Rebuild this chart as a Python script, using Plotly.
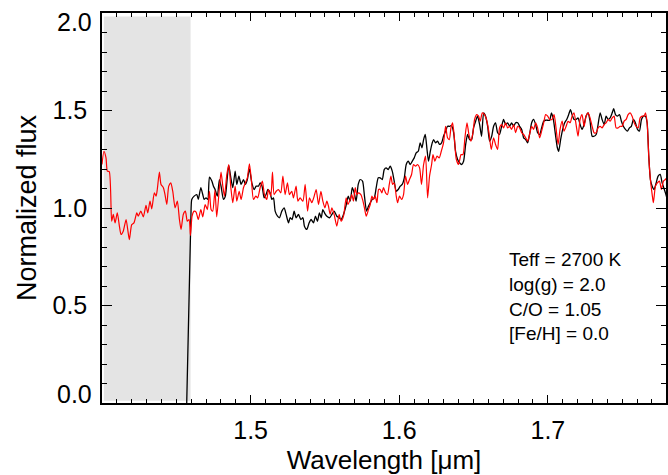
import plotly.graph_objects as go

# Observed spectrum (black)
obs_wave = [
    1.4570, 1.4598, 1.4604, 1.4620, 1.4638, 1.4648, 1.4665, 1.4678, 1.4687, 1.4700,
    1.4712, 1.4723, 1.4739, 1.4750, 1.4761, 1.4776, 1.4790, 1.4801, 1.4817, 1.4830,
    1.4844, 1.4853, 1.4867, 1.4880, 1.4896, 1.4907, 1.4921, 1.4936, 1.4952, 1.4965,
    1.4978, 1.4992, 1.5008, 1.5024, 1.5037, 1.5053, 1.5064, 1.5077, 1.5091, 1.5104,
    1.5116, 1.5131, 1.5143, 1.5154, 1.5165, 1.5181, 1.5194, 1.5210, 1.5226, 1.5239,
    1.5255, 1.5266, 1.5279, 1.5293, 1.5306, 1.5322, 1.5338, 1.5352, 1.5362, 1.5378,
    1.5394, 1.5407, 1.5423, 1.5436, 1.5450, 1.5463, 1.5475, 1.5486, 1.5500, 1.5513,
    1.5531, 1.5547, 1.5562, 1.5580, 1.5596, 1.5609, 1.5625, 1.5641, 1.5657, 1.5670,
    1.5684, 1.5697, 1.5710, 1.5724, 1.5737, 1.5753, 1.5766, 1.5780, 1.5793, 1.5805,
    1.5818, 1.5832, 1.5845, 1.5859, 1.5872, 1.5886, 1.5899, 1.5912, 1.5926, 1.5939,
    1.5953, 1.5966, 1.5980, 1.5993, 1.6007, 1.6020, 1.6034, 1.6047, 1.6061, 1.6074,
    1.6088, 1.6101, 1.6114, 1.6128, 1.6141, 1.6153, 1.6164, 1.6175, 1.6187, 1.6197,
    1.6209, 1.6222, 1.6231, 1.6244, 1.6258, 1.6271, 1.6285, 1.6298, 1.6312, 1.6325,
    1.6339, 1.6352, 1.6366, 1.6379, 1.6393, 1.6406, 1.6420, 1.6433, 1.6447, 1.6460,
    1.6473, 1.6487, 1.6500, 1.6514, 1.6527, 1.6541, 1.6554, 1.6568, 1.6581, 1.6595,
    1.6608, 1.6622, 1.6635, 1.6648, 1.6662, 1.6675, 1.6689, 1.6702, 1.6716, 1.6729,
    1.6743, 1.6756, 1.6770, 1.6783, 1.6797, 1.6810, 1.6824, 1.6837, 1.6851, 1.6864,
    1.6877, 1.6891, 1.6904, 1.6918, 1.6931, 1.6945, 1.6958, 1.6972, 1.6985, 1.6999,
    1.7012, 1.7024, 1.7037, 1.7051, 1.7064, 1.7073, 1.7086, 1.7100, 1.7113, 1.7127,
    1.7140, 1.7152, 1.7163, 1.7176, 1.7190, 1.7203, 1.7217, 1.7230, 1.7244, 1.7257,
    1.7271, 1.7284, 1.7298, 1.7311, 1.7325, 1.7338, 1.7352, 1.7365, 1.7379, 1.7392,
    1.7406, 1.7419, 1.7433, 1.7443, 1.7455, 1.7468, 1.7482, 1.7495, 1.7508, 1.7522,
    1.7535, 1.7549, 1.7562, 1.7576, 1.7589, 1.7603, 1.7616, 1.7630, 1.7643, 1.7657,
    1.7668, 1.7679, 1.7690, 1.7702, 1.7715, 1.7729, 1.7742, 1.7756, 1.7769, 1.7780,
    1.7791, 1.7805,
]
obs_flux = [
    0.000, 0.950, 1.044, 1.061, 1.069, 1.044, 1.104, 1.069, 1.044, 1.052,
    1.044, 1.158, 1.138, 1.112, 1.095, 1.061, 1.146, 1.112, 1.044, 1.061,
    1.163, 1.218, 1.155, 1.104, 1.189, 1.121, 1.163, 1.121, 1.146, 1.121,
    1.146, 1.201, 1.129, 1.095, 1.112, 1.112, 1.129, 1.112, 1.052, 1.069,
    1.095, 1.078, 1.044, 1.052, 0.984, 0.958, 0.950, 0.984, 1.001, 0.967,
    0.924, 0.950, 0.941, 0.984, 0.950, 0.967, 0.941, 0.950, 0.907, 0.890,
    0.924, 0.941, 0.924, 0.958, 0.932, 0.975, 0.950, 0.992, 0.971, 0.958,
    0.950, 0.967, 0.984, 0.958, 0.950, 0.941, 0.967, 1.009, 1.061, 1.035,
    1.104, 1.078, 1.035, 1.121, 1.146, 1.138, 1.061, 0.984, 1.009, 1.027,
    1.044, 1.052, 1.104, 1.155, 1.155, 1.146, 1.197, 1.206, 1.197, 1.214,
    1.189, 1.138, 1.086, 1.095, 1.112, 1.121, 1.155, 1.223, 1.240, 1.223,
    1.240, 1.257, 1.283, 1.291, 1.334, 1.309, 1.351, 1.377, 1.300, 1.240,
    1.290, 1.334, 1.351, 1.334, 1.343, 1.326, 1.334, 1.368, 1.394, 1.419,
    1.419, 1.423, 1.386, 1.291, 1.249, 1.232, 1.223, 1.240, 1.326, 1.377,
    1.351, 1.351, 1.411, 1.445, 1.471, 1.428, 1.368, 1.488, 1.471, 1.419,
    1.343, 1.368, 1.419, 1.437, 1.386, 1.377, 1.419, 1.454, 1.428, 1.437,
    1.419, 1.437, 1.419, 1.437, 1.437, 1.419, 1.403, 1.360, 1.351, 1.334,
    1.377, 1.437, 1.454, 1.428, 1.386, 1.377, 1.411, 1.445, 1.450, 1.450,
    1.450, 1.488, 1.454, 1.377, 1.309, 1.291, 1.351, 1.403, 1.437, 1.454,
    1.479, 1.505, 1.479, 1.454, 1.454, 1.462, 1.428, 1.403, 1.428, 1.471,
    1.488, 1.445, 1.368, 1.368, 1.377, 1.428, 1.488, 1.454, 1.428, 1.471,
    1.454, 1.462, 1.488, 1.509, 1.479, 1.471, 1.479, 1.445, 1.419, 1.403,
    1.394, 1.411, 1.419, 1.454, 1.437, 1.403, 1.394, 1.454, 1.471, 1.471,
    1.437, 1.266, 1.146, 1.112, 1.095, 1.129, 1.163, 1.172, 1.129, 1.104,
    1.078, 1.040,
]

# Model spectrum (red)
model_wave = [
    1.4000, 1.4013, 1.4027, 1.4036, 1.4049, 1.4065, 1.4076, 1.4088, 1.4103, 1.4117,
    1.4128, 1.4143, 1.4162, 1.4173, 1.4184, 1.4200, 1.4215, 1.4234, 1.4244, 1.4261,
    1.4278, 1.4296, 1.4308, 1.4323, 1.4335, 1.4352, 1.4364, 1.4372, 1.4386, 1.4397,
    1.4413, 1.4424, 1.4436, 1.4449, 1.4463, 1.4476, 1.4492, 1.4507, 1.4521, 1.4532,
    1.4547, 1.4561, 1.4574, 1.4586, 1.4595, 1.4606, 1.4620, 1.4633, 1.4648, 1.4665,
    1.4678, 1.4694, 1.4709, 1.4723, 1.4734, 1.4745, 1.4760, 1.4772, 1.4790, 1.4801,
    1.4813, 1.4824, 1.4840, 1.4853, 1.4867, 1.4880, 1.4896, 1.4907, 1.4923, 1.4936,
    1.4952, 1.4965, 1.4978, 1.4992, 1.5005, 1.5019, 1.5035, 1.5048, 1.5064, 1.5079,
    1.5093, 1.5109, 1.5120, 1.5136, 1.5147, 1.5158, 1.5172, 1.5187, 1.5203, 1.5217,
    1.5232, 1.5248, 1.5261, 1.5277, 1.5288, 1.5306, 1.5318, 1.5333, 1.5352, 1.5367,
    1.5383, 1.5396, 1.5412, 1.5428, 1.5441, 1.5457, 1.5473, 1.5486, 1.5500, 1.5513,
    1.5524, 1.5535, 1.5547, 1.5562, 1.5580, 1.5596, 1.5609, 1.5625, 1.5643, 1.5655,
    1.5670, 1.5681, 1.5692, 1.5704, 1.5715, 1.5726, 1.5742, 1.5753, 1.5766, 1.5778,
    1.5793, 1.5805, 1.5816, 1.5827, 1.5838, 1.5850, 1.5861, 1.5872, 1.5883, 1.5894,
    1.5908, 1.5921, 1.5933, 1.5944, 1.5955, 1.5966, 1.5980, 1.5989, 1.6002, 1.6016,
    1.6029, 1.6042, 1.6056, 1.6069, 1.6083, 1.6096, 1.6110, 1.6123, 1.6137, 1.6150,
    1.6164, 1.6177, 1.6191, 1.6204, 1.6218, 1.6227, 1.6240, 1.6254, 1.6269, 1.6283,
    1.6298, 1.6312, 1.6325, 1.6337, 1.6348, 1.6359, 1.6370, 1.6384, 1.6399, 1.6416,
    1.6429, 1.6442, 1.6456, 1.6469, 1.6483, 1.6496, 1.6507, 1.6521, 1.6534, 1.6545,
    1.6559, 1.6574, 1.6590, 1.6604, 1.6619, 1.6635, 1.6648, 1.6662, 1.6675, 1.6689,
    1.6702, 1.6716, 1.6729, 1.6743, 1.6756, 1.6770, 1.6783, 1.6797, 1.6810, 1.6824,
    1.6837, 1.6851, 1.6864, 1.6877, 1.6891, 1.6904, 1.6918, 1.6931, 1.6945, 1.6958,
    1.6972, 1.6985, 1.6999, 1.7012, 1.7028, 1.7042, 1.7055, 1.7069, 1.7082, 1.7096,
    1.7109, 1.7123, 1.7136, 1.7150, 1.7163, 1.7176, 1.7190, 1.7203, 1.7217, 1.7230,
    1.7244, 1.7257, 1.7271, 1.7284, 1.7298, 1.7311, 1.7325, 1.7338, 1.7352, 1.7365,
    1.7379, 1.7392, 1.7406, 1.7419, 1.7433, 1.7446, 1.7459, 1.7473, 1.7486, 1.7500,
    1.7513, 1.7527, 1.7540, 1.7554, 1.7567, 1.7581, 1.7594, 1.7608, 1.7621, 1.7635,
    1.7648, 1.7657, 1.7668, 1.7679, 1.7690, 1.7702, 1.7710, 1.7724, 1.7737, 1.7751,
    1.7764, 1.7778, 1.7791, 1.7805,
]
model_flux = [
    1.223, 1.291, 1.257, 1.189, 1.186, 0.932, 0.967, 0.924, 0.975, 0.907,
    0.864, 0.881, 0.941, 0.890, 0.838, 0.915, 0.924, 0.975, 0.958, 0.984,
    0.955, 1.013, 0.975, 1.035, 0.996, 1.078, 1.061, 1.095, 1.184, 1.121,
    1.104, 1.069, 1.018, 1.112, 1.129, 1.086, 1.001, 1.035, 0.941, 0.890,
    0.967, 0.984, 0.932, 0.941, 0.859, 0.958, 0.984, 0.979, 0.941, 0.992,
    0.955, 1.018, 0.992, 1.086, 0.992, 0.984, 1.090, 0.955, 1.104, 1.184,
    1.112, 1.061, 1.172, 1.223, 1.104, 1.027, 1.112, 1.035, 1.086, 1.044,
    1.104, 1.129, 1.155, 1.227, 1.146, 1.044, 1.061, 1.052, 1.104, 1.138,
    1.069, 1.044, 1.095, 1.061, 1.184, 1.069, 1.086, 1.095, 1.078, 1.163,
    1.069, 1.129, 1.069, 1.086, 1.052, 1.112, 1.035, 1.052, 1.035, 1.121,
    0.984, 1.052, 1.027, 1.061, 1.095, 1.018, 1.086, 1.035, 1.001, 1.035,
    1.009, 0.967, 1.001, 0.967, 0.907, 0.967, 0.932, 0.958, 1.052, 1.018,
    1.044, 1.069, 1.035, 1.104, 1.069, 1.078, 1.069, 1.044, 1.001, 0.958,
    0.992, 1.018, 1.061, 1.044, 1.061, 1.027, 1.095, 1.095, 1.078, 1.104,
    1.078, 1.069, 1.121, 1.163, 1.121, 1.129, 1.061, 1.027, 1.061, 1.044,
    1.069, 1.163, 1.121, 1.146, 1.172, 1.223, 1.214, 1.223, 1.206, 1.121,
    1.223, 1.266, 1.052, 1.163, 1.223, 1.274, 1.240, 1.266, 1.257, 1.291,
    1.334, 1.419, 1.360, 1.351, 1.411, 1.437, 1.368, 1.249, 1.223, 1.274,
    1.274, 1.360, 1.437, 1.377, 1.343, 1.386, 1.454, 1.479, 1.471, 1.445,
    1.488, 1.479, 1.445, 1.386, 1.300, 1.360, 1.326, 1.300, 1.411, 1.428,
    1.411, 1.437, 1.411, 1.419, 1.403, 1.428, 1.386, 1.419, 1.411, 1.386,
    1.377, 1.360, 1.343, 1.377, 1.419, 1.403, 1.437, 1.411, 1.360, 1.394,
    1.437, 1.479, 1.471, 1.454, 1.454, 1.479, 1.411, 1.326, 1.403, 1.445,
    1.394, 1.419, 1.445, 1.437, 1.471, 1.488, 1.428, 1.368, 1.454, 1.479,
    1.419, 1.471, 1.488, 1.462, 1.419, 1.386, 1.386, 1.411, 1.419, 1.411,
    1.428, 1.437, 1.454, 1.445, 1.462, 1.471, 1.411, 1.411, 1.419, 1.419,
    1.445, 1.454, 1.479, 1.488, 1.471, 1.437, 1.419, 1.411, 1.462, 1.471,
    1.471, 1.488, 1.437, 1.266, 1.146, 1.069, 1.027, 1.112, 1.129, 1.138,
    1.095, 1.138, 1.146, 1.160,
]

# Model parameters shown in the corner
param_lines = ["Teff = 2700 K", "log(g) = 2.0", "C/O = 1.05", "[Fe/H] = 0.0"]

# Axis extents and the shaded (excluded) wavelength window
x_range = [1.40, 1.7795]
y_range = [0.0, 2.0]
shade_wave = [1.4013, 1.4596]

x_major = [1.5, 1.6, 1.7]
y_major = [0.0, 0.5, 1.0, 1.5, 2.0]
y_major_text = ["0.0", "0.5", "1.0", "1.5", "2.0"]

FONT = "Liberation Sans, Arial, Helvetica, sans-serif"
TICK_SIZE = 25

fig = go.Figure()

fig.add_shape(
    type="rect", xref="x", yref="paper",
    x0=shade_wave[0], x1=shade_wave[1], y0=0.006, y1=0.991,
    fillcolor="#e4e4e4", line=dict(width=0), layer="below",
)

fig.add_trace(go.Scatter(
    x=obs_wave, y=obs_flux, mode="lines",
    line=dict(color="black", width=1.3, shape="spline", smoothing=0.6),
    showlegend=False, hoverinfo="skip",
))
fig.add_trace(go.Scatter(
    x=model_wave, y=model_flux, mode="lines",
    line=dict(color="#ff0000", width=1.2, shape="spline", smoothing=0.6),
    showlegend=False, hoverinfo="skip",
))

line_y = [0.3674, 0.3038, 0.2410, 0.1782]
for txt, yy in zip(param_lines, line_y):
    fig.add_annotation(
        x=0.7176, y=yy, xref="paper", yref="paper",
        xanchor="left", yanchor="middle", showarrow=False,
        text=txt, font=dict(family=FONT, size=19, color="black"),
    )

# The end labels of the y axis sit nudged inward, clear of the frame corners
inner_text = [t if 0 < i < len(y_major) - 1 else "" for i, t in enumerate(y_major_text)]
for val, txt, shift in [(y_major[0], y_major_text[0], 9), (y_major[-1], y_major_text[-1], -9)]:
    fig.add_annotation(
        x=0, y=val, xref="paper", yref="y",
        xanchor="right", yanchor="middle", xshift=-8, yshift=shift,
        showarrow=False, text=txt,
        font=dict(family=FONT, size=TICK_SIZE, color="black"),
    )

axis_common = dict(
    showline=True, linecolor="black", linewidth=1.5, mirror="allticks",
    ticks="inside", tickcolor="black", tickwidth=1,
    showgrid=False, zeroline=False, automargin=False,
    tickfont=dict(family=FONT, size=TICK_SIZE, color="black"),
)

fig.update_xaxes(
    **axis_common,
    range=x_range, tickmode="array", tickvals=x_major,
    ticktext=[f"{v:.1f}" for v in x_major], ticklen=8,
    minor=dict(ticks="inside", ticklen=4, tickcolor="black", tickwidth=1,
               tick0=1.40, dtick=0.01, showgrid=False),
    ticklabelstandoff=4,
    title=dict(text="Wavelength [μm]", font=dict(family=FONT, size=26, color="black"),
               standoff=10),
)
fig.update_yaxes(
    **axis_common,
    range=y_range, tickmode="array", tickvals=y_major, ticktext=inner_text, ticklen=10,
    minor=dict(ticks="inside", ticklen=5, tickcolor="black", tickwidth=1,
               tick0=0.0, dtick=0.1, showgrid=False),
    ticklabelstandoff=8,
    title=dict(text="Normalized flux", font=dict(family=FONT, size=27, color="black"),
               standoff=8),
)

fig.update_layout(
    width=668, height=475,
    margin=dict(l=102, r=2, t=13, b=72, pad=0),
    plot_bgcolor="white", paper_bgcolor="white",
)

fig.write_html("out.html")
